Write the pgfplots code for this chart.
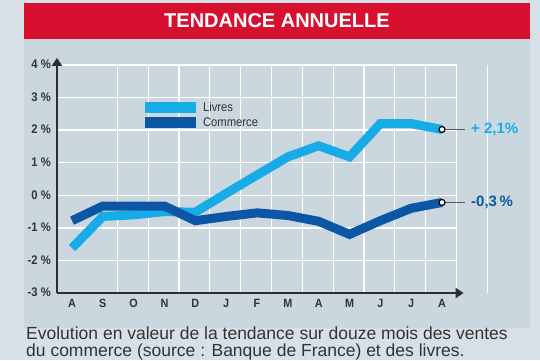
\documentclass[border=0pt]{standalone}
\usepackage{pgfplots}
\pgfplotsset{compat=1.18}
\usetikzlibrary{arrows.meta}
\usepackage{fontspec}
\setmainfont{Liberation Sans}
\newfontfamily\condfont{Liberation Sans}[FakeStretch=0.9]
\definecolor{outerbg}{HTML}{D6E0E6}
\definecolor{panelbg}{HTML}{CAD7DE}
\definecolor{banner}{HTML}{D7102F}
\definecolor{lblue}{HTML}{17ABE8}
\definecolor{dblue}{HTML}{0B57A5}
\definecolor{axisgray}{HTML}{2E2E2E}
\definecolor{txt}{HTML}{333333}
\begin{document}
\begin{tikzpicture}[x=1pt,y=1pt]
\clip (0,0) rectangle (540,360);
\fill[outerbg] (0,0) rectangle (540,360);
\fill[panelbg] (24,32) rectangle (530,321);
\fill[banner] (24,321) rectangle (530,357.5);
\node[white, font=\bfseries\fontsize{20}{22}\selectfont, anchor=center] at (277,339.5) {TENDANCE ANNUELLE};
\begin{axis}[
  at={(57pt,67pt)}, anchor=south west,
  scale only axis, width=399.5pt, height=228pt,
  xmin=-0.487, xmax=12.47, ymin=-3, ymax=4,
  axis x line*=bottom, axis y line*=left,
  axis line style={draw=none},
  clip=false,
  major tick length=0pt, minor tick length=0pt,
  xtick={0,...,12},
  xticklabels={A,S,O,N,D,J,F,M,A,M,J,J,A},
  minor xtick={1.47,2.47,3.47,4.47,5.47,6.47,7.47,8.47,9.47,10.47,11.47,12.47},
  ytick={-3,-2,...,4},
  yticklabels={{-3 \%},{-2 \%},{-1 \%},{0 \%},{1 \%},{2 \%},{3 \%},{4 \%}},
  ymajorgrids, xminorgrids,
  major grid style={white, line width=1.3pt},
  minor grid style={white, line width=1.3pt},
  xticklabel style={anchor=base, inner sep=0pt, yshift=-14.5pt, text=txt, font=\condfont\bfseries\fontsize{12}{12}\selectfont},
  yticklabel style={anchor=east, inner sep=0pt, xshift=-6pt, yshift=0.5pt, text=txt, font=\condfont\bfseries\fontsize{12.5}{13}\selectfont},
  legend style={at={(axis cs:2.37,2.86)}, anchor=north west, draw=none, fill=none,
    inner sep=0pt, outer sep=0pt, row sep=4pt,
    nodes={inner sep=0pt, text=txt, font=\condfont\fontsize{12.5}{12}\selectfont, text height=9pt, text depth=1pt},
    /tikz/every odd column/.append style={column sep=7pt}},
  legend cell align=left,
  legend image code/.code={\fill[draw=none] (0pt,-5.5pt) rectangle (51pt,5.5pt);},
]
\draw[white, line width=1.3pt] (axis cs:13.47,-3) -- (axis cs:13.47,4);
\addplot[lblue, line width=9pt, mark=none] coordinates {
(0,-1.62) (1,-0.65) (2,-0.6) (3,-0.5) (4,-0.52) (5,0.06) (6,0.62) (7,1.18) (8,1.52) (9,1.18) (10,2.2) (11,2.2) (12,2.02)};
\addlegendentry{Livres}
\addplot[dblue, line width=9pt, mark=none] coordinates {
(0,-0.78) (1,-0.33) (2,-0.33) (3,-0.33) (4,-0.78) (5,-0.65) (6,-0.54) (7,-0.62) (8,-0.8) (9,-1.2) (10,-0.78) (11,-0.4) (12,-0.22)};
\addlegendentry{Commerce}
\addplot[axisgray!80, line width=1.2pt, forget plot] coordinates {(12,2.02) (12.75,2.02)};
\addplot[axisgray!80, line width=1.2pt, forget plot] coordinates {(12,-0.22) (12.75,-0.22)};
\addplot[only marks, mark=*, mark size=3pt, mark options={fill=white, draw=black, line width=1.2pt}, forget plot] coordinates {(12,2.02) (12,-0.22)};
\node[anchor=west, text=lblue, font=\bfseries\fontsize{15}{16}\selectfont, inner sep=0pt] at (axis cs:12.94,2.02) {+ 2,1\%};
\node[anchor=west, text=dblue, font=\bfseries\fontsize{15}{16}\selectfont, inner sep=0pt] at (axis cs:12.94,-0.22) {-0,3\,\%};
\draw[axisgray, line width=2pt, -{Triangle[width=10pt,length=8pt]}] (axis cs:-0.487,-3) -- (axis cs:-0.487,4.22);
\draw[axisgray, line width=2pt, -{Triangle[width=10pt,length=8pt]}] (axis cs:-0.487,-3) -- (axis cs:12.7,-3);
\end{axis}
\node[anchor=base west, text=txt, font=\fontsize{17.5}{18}\selectfont, inner sep=0pt] at (26,21) {Evolution en valeur de la tendance sur douze mois des ventes};
\node[anchor=base west, text=txt, font=\fontsize{17.5}{18}\selectfont, inner sep=0pt] at (26,3.5) {du commerce (source : Banque de France) et des livres.};
\end{tikzpicture}
\end{document}
